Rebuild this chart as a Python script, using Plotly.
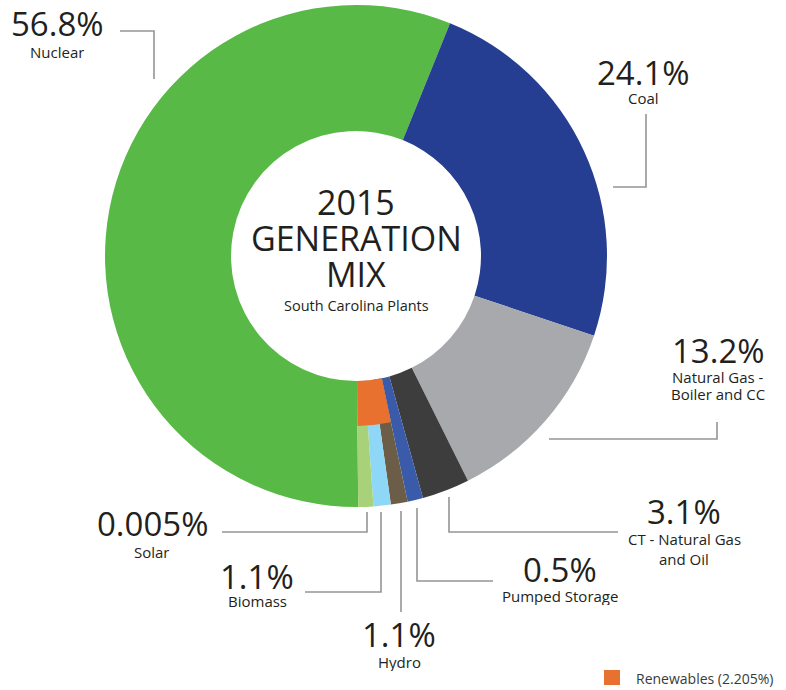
import plotly.graph_objects as go

# generation sources, as labelled
sources = ["Nuclear", "Coal", "Natural Gas - Boiler and CC", "CT - Natural Gas and Oil",
           "Pumped Storage", "Hydro", "Biomass", "Solar"]
name_lines = [["Nuclear"], ["Coal"], ["Natural Gas -", "Boiler and CC"], ["CT - Natural Gas", "and Oil"],
              ["Pumped Storage"], ["Hydro"], ["Biomass"], ["Solar"]]
share_labels = ["56.8%", "24.1%", "13.2%", "3.1%", "0.5%", "1.1%", "1.1%", "0.005%"]
# share of the ring each slice takes in the picture (small ones are drawn wider)
drawn_share = [56.25, 24.03, 12.5, 3.06, 1.0, 1.08, 1.11, 0.97]
colors = ["#58b947", "#263e92", "#a7a9ac", "#3d3d3e", "#3a5ba9", "#6b5d47", "#8fd7f6", "#a8d27a"]

renewables = ["Hydro", "Biomass", "Solar"]
renewables_label = "Renewables (2.205%)"
renewables_color = "#e9712f"

W, H = 786, 690
CX, CY = 356, 256
R_OUT, R_MID, R_IN = 251, 170, 125
TEXT = "#231f20"
LINE = "#939598"
FONT = "Open Sans"


def px(x):
    return x / W


def py(y):
    return 1 - y / H


def domain(r):
    return dict(x=[px(CX - r), px(CX + r)], y=[py(CY + r), py(CY - r)])


fig = go.Figure()

fig.add_trace(go.Pie(
    labels=sources, values=drawn_share, sort=False, direction="clockwise", rotation=179.5,
    hole=R_IN / R_OUT, domain=domain(R_OUT), textinfo="none", hoverinfo="label",
    marker=dict(colors=colors, line=dict(width=0)), showlegend=False,
))

# inner band: renewables merged into one orange segment
inner_labels = [s for s in sources if s not in renewables] + ["Renewables"]
inner_values = [v for s, v in zip(sources, drawn_share) if s not in renewables]
inner_values.append(sum(v for s, v in zip(sources, drawn_share) if s in renewables))
inner_colors = ["rgba(0,0,0,0)"] * (len(inner_labels) - 1) + [renewables_color]

fig.add_trace(go.Pie(
    labels=inner_labels, values=inner_values, sort=False, direction="clockwise", rotation=179.5,
    hole=R_IN / R_MID, domain=domain(R_MID), textinfo="none", hoverinfo="skip",
    marker=dict(colors=inner_colors, line=dict(width=0)), showlegend=False,
))

# label placement: (x centre, y of percentage, y of first name line)
label_pos = [
    (57, 23, 52),
    (643, 72, 98),
    (718, 350, 377),
    (684, 511, 539),
    (560, 569, 596),
    (399, 634, 662),
    (257, 576, 601),
    (152, 523, 552),
]
NAME_STEP = 17

# leader lines, pixel points
leaders = [
    [(120, 31), (154, 31), (154, 79)],
    [(646, 114), (646, 187), (613, 187)],
    [(549, 439), (717, 439), (717, 422)],
    [(449, 497), (449, 532), (618, 532)],
    [(417, 508), (417, 581), (493, 581)],
    [(401, 511), (401, 612)],
    [(381, 512), (381, 592), (305, 592)],
    [(367, 512), (367, 532), (222, 532)],
]

annotations = []
for lines, pct, (x, y1, y2) in zip(name_lines, share_labels, label_pos):
    annotations.append(dict(x=px(x), y=py(y1), text=pct, height=28, font=dict(size=33, color=TEXT)))
    for i, line in enumerate(lines):
        step = 20 if len(lines) > 1 and x > 650 and y1 > 500 else NAME_STEP
        annotations.append(dict(x=px(x), y=py(y2 + i * step), text=line,
                                height=16 if len(lines) > 1 else 18,
                                font=dict(size=15, color=TEXT)))

for txt, y, size, hgt in [("2015", 202, 34, 30), ("GENERATION", 238, 34, 30), ("MIX", 274, 34, 30),
                          ("South Carolina Plants", 305, 14.5, 18)]:
    annotations.append(dict(x=px(356), y=py(y), text=txt, height=hgt, font=dict(size=size, color=TEXT)))

annotations.append(dict(x=px(634), y=py(678), text=renewables_label, xanchor="left",
                        font=dict(size=14, color="#3a3a3a")))

for a in annotations:
    a.update(xref="paper", yref="paper", showarrow=False, yanchor=a.get("yanchor", "middle"),
             xanchor=a.get("xanchor", "center"))

shapes = []
for pts in leaders:
    path = "M " + " L ".join(f"{px(x)},{py(y)}" for x, y in pts)
    shapes.append(dict(type="path", path=path, xref="paper", yref="paper",
                       line=dict(color=LINE, width=1.6)))

shapes.append(dict(type="rect", xref="paper", yref="paper", x0=px(604), x1=px(620),
                   y0=py(685), y1=py(670), fillcolor=renewables_color, line=dict(width=0)))

fig.update_layout(
    width=W, height=H,
    margin=dict(l=0, r=0, t=0, b=0),
    paper_bgcolor="white", plot_bgcolor="white",
    font=dict(family=FONT, color=TEXT),
    annotations=annotations,
    shapes=shapes,
)

fig.write_html("out.html", config={"displayModeBar": False},
               post_script="document.body.style.margin='0';")
